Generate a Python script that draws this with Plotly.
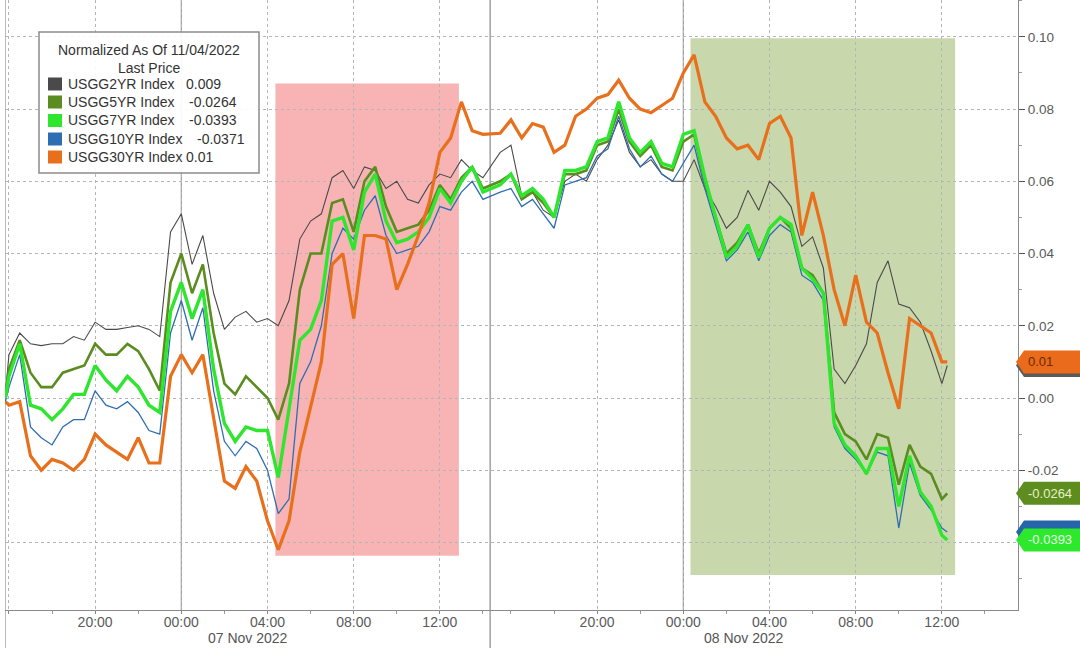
import pandas as pd
import plotly.graph_objects as go

# ---------------- data ----------------
start_time = ["2022-11-06 15:50"]
session1 = pd.date_range("2022-11-06 16:00", "2022-11-07 14:00", freq="30min")
session2 = pd.date_range("2022-11-07 15:30", "2022-11-08 12:00", freq="30min")
end_time = ["2022-11-08 12:15"]
times = (pd.DatetimeIndex(start_time).append(session1)
         .append(session2).append(pd.DatetimeIndex(end_time)))

usgg2yr = [0.001,
           0.012, 0.018, 0.015, 0.0145, 0.015, 0.015, 0.017, 0.016, 0.021, 0.019,
           0.019, 0.0195, 0.020, 0.019, 0.017, 0.046, 0.051, 0.037, 0.045, 0.029,
           0.019, 0.0224, 0.024, 0.021, 0.022, 0.020, 0.027, 0.044, 0.049, 0.051,
           0.061, 0.063, 0.058, 0.064, 0.063, 0.058, 0.060, 0.055, 0.054, 0.059,
           0.062, 0.061, 0.066, 0.063, 0.061,
           0.068, 0.070, 0.056, 0.057, 0.052, 0.050, 0.060, 0.062, 0.060, 0.066,
           0.070, 0.077, 0.068, 0.064, 0.066, 0.062, 0.060, 0.060, 0.066, 0.058,
           0.053, 0.047, 0.050, 0.0575, 0.052, 0.060, 0.057, 0.053, 0.042, 0.0446,
           0.036, 0.008, 0.004, 0.009, 0.015, 0.032, 0.038, 0.026, 0.025, 0.021,
           0.013, 0.004, 0.009]

usgg5yr = [0.001,
           0.008, 0.016, 0.007, 0.003, 0.003, 0.007, 0.008, 0.009, 0.015, 0.012,
           0.012, 0.015, 0.013, 0.008, 0.002, 0.032, 0.040, 0.029, 0.037, 0.018,
           0.004, 0.001, 0.006, 0.003, 0.000, -0.006, 0.004, 0.030, 0.040, 0.040,
           0.054, 0.055, 0.046, 0.060, 0.064, 0.053, 0.046, 0.047, 0.048, 0.052,
           0.059, 0.055, 0.061, 0.064, 0.058,
           0.060, 0.062, 0.055, 0.057, 0.054, 0.050, 0.062, 0.062, 0.063, 0.070,
           0.071, 0.080, 0.071, 0.067, 0.070, 0.064, 0.063, 0.071, 0.073, 0.060,
           0.050, 0.040, 0.043, 0.048, 0.040, 0.047, 0.050, 0.047, 0.036, 0.034,
           0.029, -0.004, -0.010, -0.012, -0.017, -0.010, -0.011, -0.024, -0.013, -0.019,
           -0.021, -0.028, -0.0264]

usgg7yr = [0.000,
           0.006, 0.015, -0.002, -0.003, -0.006, -0.003, 0.001, 0.001, 0.009, 0.005,
           0.002, 0.006, 0.003, -0.002, -0.004, 0.024, 0.032, 0.022, 0.030, 0.008,
           -0.007, -0.012, -0.008, -0.009, -0.009, -0.022, -0.003, 0.016, 0.019, 0.027,
           0.049, 0.050, 0.041, 0.057, 0.062, 0.049, 0.043, 0.044, 0.046, 0.050,
           0.058, 0.054, 0.060, 0.064, 0.057,
           0.059, 0.062, 0.056, 0.058, 0.055, 0.050, 0.063, 0.063, 0.064, 0.071,
           0.072, 0.082, 0.072, 0.068, 0.071, 0.065, 0.064, 0.073, 0.074, 0.061,
           0.050, 0.039, 0.042, 0.048, 0.039, 0.047, 0.050, 0.048, 0.036, 0.033,
           0.029, -0.007, -0.013, -0.016, -0.021, -0.014, -0.014, -0.030, -0.016, -0.026,
           -0.030, -0.038, -0.0393]

usgg10yr = [-0.001,
            0.003, 0.012, -0.008, -0.011, -0.013, -0.008, -0.006, -0.006, 0.002, -0.002,
            -0.003, -0.001, -0.004, -0.009, -0.010, 0.018, 0.027, 0.016, 0.025, 0.002,
            -0.012, -0.016, -0.012, -0.014, -0.020, -0.032, -0.028, 0.004, 0.010, 0.020,
            0.040, 0.047, 0.044, 0.052, 0.056, 0.045, 0.040, 0.041, 0.042, 0.046,
            0.053, 0.052, 0.057, 0.060, 0.055,
            0.057, 0.058, 0.053, 0.055, 0.051, 0.047, 0.059, 0.060, 0.061, 0.067,
            0.069, 0.078, 0.069, 0.064, 0.067, 0.062, 0.060, 0.065, 0.070, 0.058,
            0.048, 0.038, 0.041, 0.046, 0.038, 0.045, 0.048, 0.046, 0.034, 0.032,
            0.027, -0.008, -0.014, -0.017, -0.021, -0.015, -0.016, -0.036, -0.018, -0.027,
            -0.031, -0.036, -0.0371]

usgg30yr = [-0.001,
            -0.002, -0.001, -0.016, -0.020, -0.017, -0.018, -0.020, -0.017, -0.010, -0.013,
            -0.015, -0.017, -0.011, -0.018, -0.018, 0.006, 0.012, 0.007, 0.012, -0.005,
            -0.023, -0.025, -0.019, -0.023, -0.034, -0.042, -0.034, -0.015, -0.002, 0.010,
            0.037, 0.040, 0.022, 0.045, 0.045, 0.044, 0.030, 0.037, 0.045, 0.054,
            0.068, 0.072, 0.082, 0.074, 0.073,
            0.0733, 0.077, 0.072, 0.076, 0.075, 0.068, 0.070, 0.078, 0.080, 0.083,
            0.084, 0.088, 0.083, 0.080, 0.079, 0.081, 0.083, 0.090, 0.095, 0.082,
            0.078, 0.072, 0.069, 0.070, 0.066, 0.076, 0.078, 0.072, 0.045, 0.057,
            0.045, 0.030, 0.020, 0.034, 0.021, 0.018, 0.007, -0.003, 0.022, 0.020,
            0.018, 0.010, 0.010]

series_names = ["USGG2YR Index", "USGG5YR Index", "USGG7YR Index",
                "USGG10YR Index", "USGG30YR Index"]
series_values = [usgg2yr, usgg5yr, usgg7yr, usgg10yr, usgg30yr]

tick_times = ["2022-11-06 16:00", "2022-11-06 20:00", "2022-11-07 00:00",
              "2022-11-07 04:00", "2022-11-07 08:00", "2022-11-07 12:00",
              "2022-11-07 20:00", "2022-11-08 00:00", "2022-11-08 04:00",
              "2022-11-08 08:00", "2022-11-08 12:00"]
tick_labels = ["", "20:00", "00:00", "04:00", "08:00", "12:00",
               "20:00", "00:00", "04:00", "08:00", "12:00"]
y_tick_values = [-0.04, -0.02, 0.0, 0.02, 0.04, 0.06, 0.08, 0.10]
y_tick_labels = ["", "-0.02", "0.00", "0.02", "0.04", "0.06", "0.08", "0.10"]
day_labels = ["07 Nov 2022", "08 Nov 2022"]
day_label_times = ["2022-11-07 03:05", "2022-11-08 02:50"]
day_starts = ["2022-11-06 15:49", "2022-11-07 14:20"]
midnights = ["2022-11-07 00:00", "2022-11-08 00:00"]
session_gap = ["2022-11-07 14:20", "2022-11-07 15:02"]
x_range = ["2022-11-06 15:49", "2022-11-08 15:32"]
red_zone = ["2022-11-07 04:22", "2022-11-07 12:53", -0.0437, 0.0871]
green_zone = ["2022-11-08 00:20", "2022-11-08 12:37", -0.049, 0.0996]

# ---------------- styles ----------------
colors = ["#4a4a4a", "#5b8c1f", "#2ee62e", "#2f6db3", "#e8701c"]
widths = [1.1, 2.6, 3.4, 1.3, 3.2]
draw_order = [0, 3, 1, 2, 4]
tag_order = [0, 4, 3, 2, 1]
tag_colors = ["#5a5a5a", "#5e8c1e", "#2ee82e", "#2466a8", "#ea6b1c"]
tag_text_colors = ["#ffffff", "#e4f2cc", "#e6ffe6", "#ffffff", "#6b2c00"]
tag_show_text = [False, True, True, False, True]
FONT = "Liberation Sans"

W, H = 1080, 648
ML, MR, MT, MB = 5, 62, 0, 38
PW, PH = W - ML - MR, H - MT - MB
YR = [-0.0587, 0.1102]


def px(x):
    return (x - ML) / PW


def py(y):
    return (H - MB - y) / PH


def dv(pixels):
    return pixels * (YR[1] - YR[0]) / PH


fig = go.Figure()
for i in draw_order:
    fig.add_trace(go.Scatter(
        x=times, y=series_values[i], mode="lines", name=series_names[i],
        line=dict(color=colors[i], width=widths[i]), showlegend=False,
        hoverinfo="skip"))

shapes = []
shapes.append(dict(type="rect", xref="x", yref="y", x0=red_zone[0], x1=red_zone[1],
                   y0=red_zone[2], y1=red_zone[3], fillcolor="#f8b4b4",
                   line=dict(width=0), layer="below"))
shapes.append(dict(type="rect", xref="x", yref="y", x0=green_zone[0], x1=green_zone[1],
                   y0=green_zone[2], y1=green_zone[3], fillcolor="#c9d7ad",
                   line=dict(width=0), layer="below"))
for m in midnights:
    shapes.append(dict(type="line", xref="x", yref="paper", x0=m, x1=m, y0=0, y1=1,
                       line=dict(color="#9a9a9a", width=1.2), layer="below"))
for d in day_starts:
    shapes.append(dict(type="line", xref="x", yref="paper", x0=d, x1=d,
                       y0=-MB / PH, y1=1, line=dict(color="#8a8a8a", width=1.2),
                       layer="below"))

# legend box
shapes.append(dict(type="rect", xref="paper", yref="paper", x0=px(39), x1=px(259),
                   y0=py(173), y1=py(32), fillcolor="rgba(255,255,255,0.92)",
                   line=dict(color="#8c8c8c", width=1.5), layer="above"))
annotations = []
annotations.append(dict(xref="paper", yref="paper", x=px(149), y=py(50),
                        xanchor="center", yanchor="middle",
                        text="Normalized As Of 11/04/2022", showarrow=False,
                        font=dict(family=FONT, size=14, color="#333333")))
annotations.append(dict(xref="paper", yref="paper", x=px(149), y=py(68),
                        xanchor="center", yanchor="middle",
                        text="Last Price", showarrow=False,
                        font=dict(family=FONT, size=14, color="#333333")))
row_y = [84, 102, 120.5, 139, 157]
value_x = [184, 187, 187, 195, 184]
for i in range(5):
    shapes.append(dict(type="rect", xref="paper", yref="paper",
                       x0=px(48), x1=px(62), y0=py(row_y[i] + 6.5), y1=py(row_y[i] - 6.5),
                       fillcolor=colors[i], line=dict(width=0), layer="above"))
    annotations.append(dict(xref="paper", yref="paper", x=px(66), y=py(row_y[i]),
                            xanchor="left", yanchor="middle",
                            text=series_names[i], showarrow=False,
                            font=dict(family=FONT, size=14, color="#333333")))
    annotations.append(dict(xref="paper", yref="paper", x=px(value_x[i]), y=py(row_y[i]),
                            xanchor="left", yanchor="middle",
                            text=f"{series_values[i][-1]:g}", showarrow=False,
                            font=dict(family=FONT, size=14, color="#333333")))

# right-side last value tags
for i in tag_order:
    v = series_values[i][-1]
    h = dv(11.5)
    xt, xb, xe = px(1016), px(1024), px(1090)
    path = (f"M {xt},{v} L {xb},{v + h} L {xe},{v + h} "
            f"L {xe},{v - h} L {xb},{v - h} Z")
    shapes.append(dict(type="path", xref="paper", yref="y", path=path,
                       fillcolor=tag_colors[i], line=dict(width=0), layer="above"))
    if tag_show_text[i]:
        annotations.append(dict(xref="paper", yref="y", x=px(1026), y=v,
                                xanchor="left", yanchor="middle",
                                text=f"{v:g}", showarrow=False,
                                font=dict(family=FONT, size=13,
                                          color=tag_text_colors[i])))

# day labels
for lab, t in zip(day_labels, day_label_times):
    annotations.append(dict(xref="x", yref="paper", x=t, y=py(637.5), text=lab,
                            xanchor="center", yanchor="middle", showarrow=False,
                            font=dict(family=FONT, size=14, color="#555555")))

fig.update_layout(
    width=W, height=H,
    margin=dict(l=ML, r=MR, t=MT, b=MB, pad=0),
    paper_bgcolor="white", plot_bgcolor="white",
    shapes=shapes, annotations=annotations,
    font=dict(family=FONT, size=13, color="#555555"),
    xaxis=dict(
        type="date", range=x_range,
        rangebreaks=[dict(bounds=session_gap)],
        tickmode="array", tickvals=tick_times, ticktext=tick_labels,
        showgrid=True, gridcolor="#b5b5b5", griddash="dot", gridwidth=1,
        showline=True, linecolor="#8a8a8a", linewidth=1.2,
        ticks="outside", ticklen=3, tickcolor="#8a8a8a",
        ticklabelstandoff=-4,
        minor=dict(tickmode="linear", tick0="2022-11-06 18:00",
                   dtick=2 * 3600 * 1000, ticks="outside", ticklen=3,
                   tickcolor="#9a9a9a", showgrid=False),
        tickfont=dict(family=FONT, size=14, color="#5a5a5a"),
        zeroline=False, fixedrange=True,
    ),
    yaxis=dict(
        side="right", range=YR,
        tickmode="array", tickvals=y_tick_values, ticktext=y_tick_labels,
        showgrid=True, gridcolor="#b5b5b5", griddash="dot", gridwidth=1,
        showline=True, linecolor="#8a8a8a", linewidth=1.2,
        ticks="outside", ticklen=6, tickcolor="#555555",
        minor=dict(tickmode="linear", tick0=-0.05, dtick=0.02, ticks="outside",
                   ticklen=3, tickcolor="#9a9a9a", showgrid=False),
        tickfont=dict(family=FONT, size=13.5, color="#5a5a5a"),
        zeroline=False, fixedrange=True,
    ),
)

fig.write_html("out.html", config={"displayModeBar": False},
               post_script="document.body.style.margin='0px';")
